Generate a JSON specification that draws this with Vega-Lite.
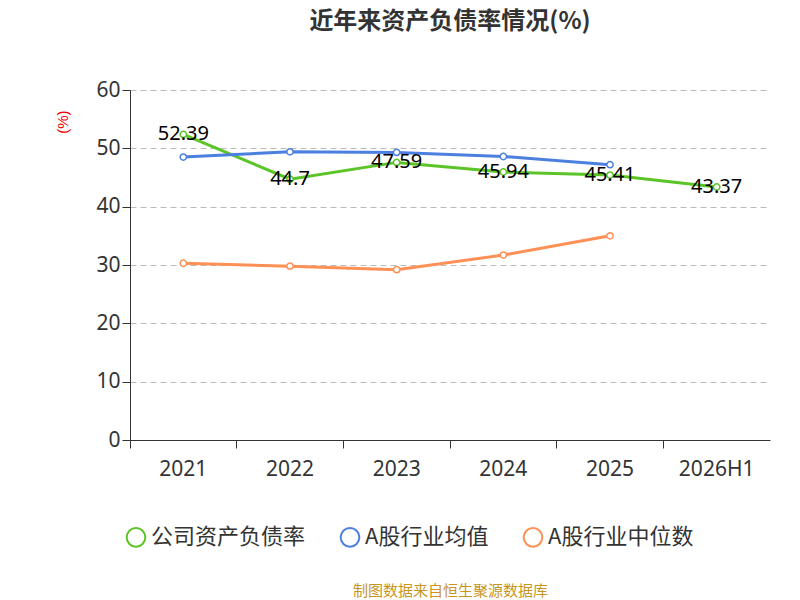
{
  "$schema": "https://vega.github.io/schema/vega-lite/v6.json",
  "autosize": {"type": "fit", "contains": "padding"},
  "width": 800,
  "height": 600,
  "padding": {"top": 10, "left": 55, "right": 30, "bottom": 2},
  "title": {"text": "近年来资产负债率情况(%)", "fontSize": 24, "fontWeight": "bold", "color": "#333", "font": "Noto Sans CJK SC", "offset": 45},
  "data": {"values": [
    {"year": "2021", "series": "公司资产负债率", "v": 52.39},
    {"year": "2022", "series": "公司资产负债率", "v": 44.7},
    {"year": "2023", "series": "公司资产负债率", "v": 47.59},
    {"year": "2024", "series": "公司资产负债率", "v": 45.94},
    {"year": "2025", "series": "公司资产负债率", "v": 45.41},
    {"year": "2026H1", "series": "公司资产负债率", "v": 43.37},
    {"year": "2021", "series": "A股行业均值", "v": 48.5},
    {"year": "2022", "series": "A股行业均值", "v": 49.4},
    {"year": "2023", "series": "A股行业均值", "v": 49.3},
    {"year": "2024", "series": "A股行业均值", "v": 48.6},
    {"year": "2025", "series": "A股行业均值", "v": 47.2},
    {"year": "2021", "series": "A股行业中位数", "v": 30.3},
    {"year": "2022", "series": "A股行业中位数", "v": 29.8},
    {"year": "2023", "series": "A股行业中位数", "v": 29.2},
    {"year": "2024", "series": "A股行业中位数", "v": 31.7},
    {"year": "2025", "series": "A股行业中位数", "v": 35.0}
  ]},
  "encoding": {
    "x": {"field": "year", "type": "ordinal", "scale": {"type": "band", "paddingInner": 0, "paddingOuter": 0},
      "axis": {"labelAngle": 0, "bandPosition": 0, "labelFontSize": 21, "labelColor": "#333", "labelPadding": 10, "tickSize": 8, "domainColor": "#333", "tickColor": "#333", "labelFont": "Noto Sans",
        "title": "制图数据来自恒生聚源数据库", "titleFontSize": 15, "titleFontWeight": "normal", "titleColor": "#c8961e", "titlePadding": 104, "titleFont": "Noto Sans CJK SC"}},
    "y": {"field": "v", "type": "quantitative", "scale": {"domain": [0, 60]},
      "axis": {"tickCount": 6, "labelFontSize": 21, "labelColor": "#333", "labelFont": "Noto Sans", "gridDash": [6, 4], "gridColor": "#bbb", "domainColor": "#333", "tickColor": "#333", "tickSize": 8,
        "title": "(%)", "titleColor": "#e00", "titleFontSize": 15, "titleFontWeight": "normal", "titleAngle": -90, "titleAlign": "right", "titleAnchor": "end", "titleX": -60, "titleY": 20}},
    "color": {"field": "series", "type": "nominal",
      "scale": {"domain": ["公司资产负债率", "A股行业均值", "A股行业中位数"], "range": ["#5bc427", "#4b7fe0", "#ff9055"]},
      "legend": {"orient": "none", "direction": "horizontal", "legendX": -5, "legendY": 436, "title": null, "labelFontSize": 22, "labelColor": "#333", "labelFont": "Noto Sans CJK SC", "symbolType": "circle", "symbolSize": 350, "symbolStrokeWidth": 2, "symbolFillColor": "white", "columnPadding": 30}}
  },
  "layer": [
    {"mark": {"type": "line", "strokeWidth": 3, "point": {"filled": false, "fill": "white", "size": 40, "strokeWidth": 1.5}}},
    {"transform": [{"filter": "datum.series === '公司资产负债率'"}],
      "mark": {"type": "text", "fontSize": 20, "color": "#000", "font": "Noto Sans", "baseline": "middle"},
      "encoding": {"text": {"field": "v"}, "color": {"value": "#000"}}}
  ],
  "config": {"view": {"stroke": null}}
}
